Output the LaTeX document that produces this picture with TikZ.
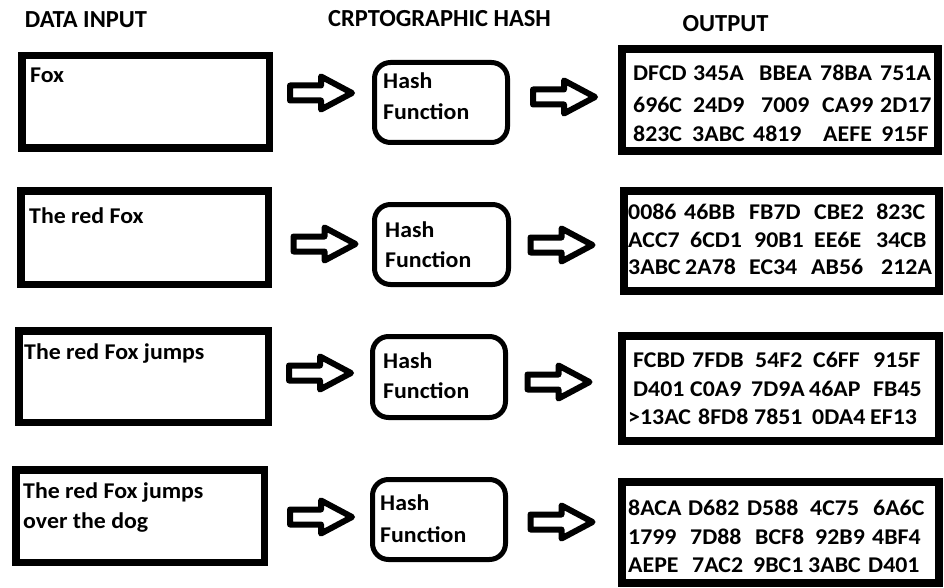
\documentclass[tikz,border=0pt]{standalone}
\usepackage{fontspec}
\setmainfont{Carlito}
\newfontfamily\bodyfont{Carlito}[FakeStretch=1.06]
\newcommand\hx[2]{\makebox[#1pt][l]{#2}}
\begin{document}
\begin{tikzpicture}[x=1pt,y=-1pt,
  inbox/.style={draw, line width=7.5pt, inner sep=0pt},
  hashbox/.style={draw, line width=5pt, rounded corners=16pt, inner sep=0pt},
  outbox/.style={draw, line width=8pt, inner sep=0pt},
  txt/.style={font=\bodyfont\bfseries\fontsize{22.5}{27}\selectfont, inner sep=0pt, anchor=base west},
  head/.style={font=\bfseries\fontsize{24.5}{28}\selectfont, inner sep=0pt, anchor=base},
  blockarrow/.pic={\draw[line width=6pt, line join=round, fill=white]
     (-31,-7.5) -- (0,-7.5) -- (0,-16.5) -- (31,0) -- (0,16.5) -- (0,7.5) -- (-31,7.5) -- cycle;}
]
\useasboundingbox (0,0) rectangle (944,588);

% headings
\node[head] (hIn)  at (86,28)    {DATA INPUT};
\node[head] (hHash) at (439.5,27) {CRPTOGRAPHIC HASH};
\node[head] (hOut) at (725.5,32) {OUTPUT};

% input boxes
\node[inbox, minimum width=247.5pt, minimum height=92.5pt] (in1) at (145.5,102) {};
\node[inbox, minimum width=247.5pt, minimum height=93.5pt] (in2) at (144.5,237.5) {};
\node[inbox, minimum width=249.5pt, minimum height=91.5pt] (in3) at (143.5,376.5) {};
\node[inbox, minimum width=248.5pt, minimum height=92.5pt] (in4) at (140,516) {};

\node[txt] (t1)  at (30,83)  {Fox};
\node[txt] (t2)  at (29,223) {The red Fox};
\node[txt] (t3)  at (24,359) {The red Fox jumps};
\node[txt] (t4a) at (23,498) {The red Fox jumps};
\node[txt] (t4b) at (23,528) {over the dog};

% hash boxes
\node[hashbox, minimum width=133pt, minimum height=80pt] (hb1) at (441,102.5) {};
\node[hashbox, minimum width=134pt, minimum height=80pt] (hb2) at (441.5,244.5) {};
\node[hashbox, minimum width=133pt, minimum height=81pt] (hb3) at (439,377) {};
\node[hashbox, minimum width=133pt, minimum height=80pt] (hb4) at (439,519.5) {};

\node[txt] (hs1a) at (383,89)  {Hash};
\node[txt] (hs1b) at (383,120) {Function};
\node[txt] (hs2a) at (385,237) {Hash};
\node[txt] (hs2b) at (385,267) {Function};
\node[txt] (hs3a) at (383,368) {Hash};
\node[txt] (hs3b) at (383,398) {Function};
\node[txt] (hs4a) at (380,510) {Hash};
\node[txt] (hs4b) at (380,542) {Function};

% arrows
\pic at (321,93)    {blockarrow};
\pic at (564,97)    {blockarrow};
\pic at (324.5,244) {blockarrow};
\pic at (561.5,245) {blockarrow};
\pic at (320,373)   {blockarrow};
\pic at (558.5,382) {blockarrow};
\pic at (321,517)   {blockarrow};
\pic at (561.5,522) {blockarrow};

% output boxes
\node[outbox, minimum width=316pt, minimum height=102pt] (ob1) at (780,100) {};
\node[outbox, minimum width=315pt, minimum height=100pt] (ob2) at (781.5,241) {};
\node[outbox, minimum width=317pt, minimum height=105pt] (ob3) at (780.5,388.5) {};
\node[outbox, minimum width=317pt, minimum height=101pt] (ob4) at (780.5,532.5) {};

\node[txt] (o1a) at (633,81)  {\hx{60}{DFCD}\hx{66}{345A}\hx{61}{BBEA}\hx{60}{78BA}751A};
\node[txt] (o1b) at (633,113) {\hx{60}{696C}\hx{68}{24D9}\hx{61}{7009}\hx{58}{CA99}2D17};
\node[txt] (o1c) at (633,142) {\hx{59}{823C}\hx{61}{3ABC}\hx{70}{4819}\hx{58}{AEFE}915F};

\node[txt] (o2a) at (628,219) {\hx{56}{0086}\hx{65}{46BB}\hx{65}{FB7D}\hx{62}{CBE2}823C};
\node[txt] (o2b) at (628,247) {\hx{62}{ACC7}\hx{64}{6CD1}\hx{60}{90B1}\hx{62}{EE6E}34CB};
\node[txt] (o2c) at (628,274) {\hx{57}{3ABC}\hx{64}{2A78}\hx{62}{EC34}\hx{70}{AB56}212A};

\node[txt] (o3a) at (633,367) {\hx{59}{FCBD}\hx{63}{7FDB}\hx{58}{54F2}\hx{60}{C6FF}915F};
\node[txt] (o3b) at (633,396) {\hx{57}{D401}\hx{61}{C0A9}\hx{58}{7D9A}\hx{64}{46AP}FB45};
\node[txt] (o3c) at (628,424) {\hx{70}{>13AC}\hx{56}{8FD8}\hx{58}{7851}\hx{58}{0DA4}EF13};

\node[txt] (o4a) at (628,515) {\hx{60}{8ACA}\hx{59}{D682}\hx{63}{D588}\hx{63}{4C75}6A6C};
\node[txt] (o4b) at (628,544) {\hx{62}{1799}\hx{65}{7D88}\hx{60}{BCF8}\hx{57}{92B9}4BF4};
\node[txt] (o4c) at (628,572) {\hx{64}{AEPE}\hx{61}{7AC2}\hx{55}{9BC1}\hx{60}{3ABC}D401};
\end{tikzpicture}
\end{document}
